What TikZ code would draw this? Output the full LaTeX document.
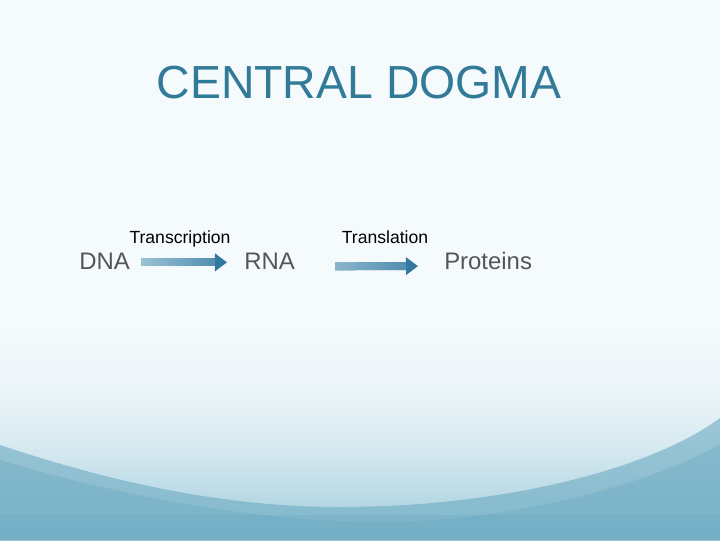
\documentclass[tikz,border=0pt]{standalone}
\usepackage{fontspec}
\setmainfont{Liberation Sans}
\usetikzlibrary{arrows.meta, fadings}
\definecolor{bgtop}{RGB}{245,250,252}
\definecolor{bgmid}{RGB}{160,204,219}
\definecolor{bgwave}{RGB}{108,170,194}
\definecolor{titleblue}{RGB}{49,123,152}
\definecolor{wordgrey}{RGB}{85,85,85}
\definecolor{arrowdark}{RGB}{50,120,160}
\definecolor{arrowlight}{RGB}{172,204,222}
\tikzfading[name=fadeshaft, left color=transparent!0, right color=transparent!100]
\pgfdeclareverticalshading{slidebg}{100bp}{color(0bp)=(bgmid); color(25bp)=(bgmid);
  color(33.5bp)=(bgmid!75!bgtop); color(47.5bp)=(bgmid!35!bgtop);
  color(60bp)=(bgmid!12!bgtop); color(75bp)=(bgtop); color(100bp)=(bgtop)}

\begin{document}
\begin{tikzpicture}[
    x=0.025cm, y=0.025cm,
    word/.style={inner sep=0pt, anchor=base west, text=wordgrey, font=\fontsize{17}{20}\selectfont},
    step label/.style={inner sep=0pt, anchor=base, text=black, font=\fontsize{12.5}{15}\selectfont},
    flow/.style={line width=0.2cm, draw=arrowdark,
                 -{Triangle[length=0.3cm, width=0.43cm]}},
    shaft/.style={line width=0.2cm, draw=arrowlight, path fading=fadeshaft},
  ]
  % background
  \fill[bgtop] (0,0) rectangle (720,540);
  \shade[shading=slidebg] (0,0) rectangle (720,210);
  \fill[bgwave, opacity=0.6] (0,95) .. controls (120,55) and (230,33) .. (340,33)
    .. controls (500,33) and (650,70) .. (720,122) -- (720,0) -- (0,0) -- cycle;
  \fill[bgwave, opacity=0.4] (0,80) .. controls (150,35) and (280,18) .. (380,18)
    .. controls (520,18) and (660,60) .. (720,96) -- (720,0) -- (0,0) -- cycle;
  \fill[bgwave, opacity=0.3] (0,0) rectangle (720,25);

  % title
  \node[inner sep=0pt, text=titleblue, font=\fontsize{33}{40}\selectfont]
    (title) at (359,457) {CENTRAL DOGMA};

  % molecules
  \node[word] (dna) at (79,271)  {DNA};
  \node[word] (rna) at (244,271) {RNA};
  \node[word] (prot) at (444,271) {Proteins};

  % steps
  \node[step label] (tx) at (180,296) {Transcription};
  \node[step label] (tl) at (385,296) {Translation};

  % arrows
  \draw[flow, shorten <=0.275cm, shorten >=0.425cm]
    ([yshift=-0.04cm]dna.east) -- ([yshift=-0.04cm]rna.west);
  \draw[shaft, shorten <=0.275cm, shorten >=0.72cm]
    ([yshift=-0.04cm]dna.east) -- ([yshift=-0.04cm]rna.west);
  \draw[flow, shorten <=1cm, shorten >=0.65cm]
    ([yshift=-0.14cm]rna.east) -- ([yshift=-0.14cm]prot.west);
  \draw[shaft, shorten <=1cm, shorten >=0.95cm]
    ([yshift=-0.14cm]rna.east) -- ([yshift=-0.14cm]prot.west);
\end{tikzpicture}
\end{document}
